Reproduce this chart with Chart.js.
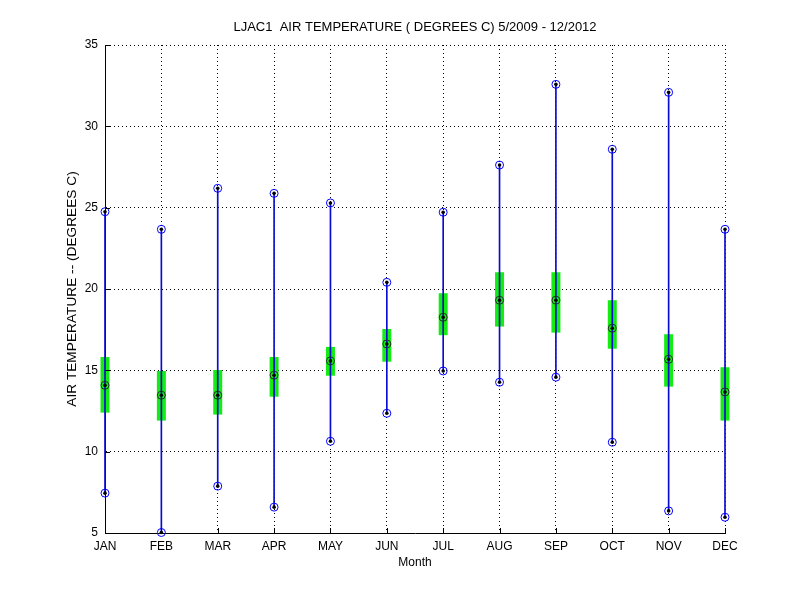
<!DOCTYPE html>
<html>
<head>
<meta charset="utf-8">
<script src="https://cdn.jsdelivr.net/npm/chart.js@4/dist/chart.umd.min.js"></script>
<style>
  html, body { margin: 0; padding: 0; background: #ffffff; }
  #wrap { width: 800px; height: 600px; }
</style>
</head>
<body>
<div id="wrap"><canvas id="c" width="800" height="600"></canvas></div>
<script>
const months = ['JAN','FEB','MAR','APR','MAY','JUN','JUL','AUG','SEP','OCT','NOV','DEC'];
const maxTemp    = [24.75, 23.67, 26.19, 25.88, 25.29, 20.41, 24.72, 27.62, 32.58, 28.59, 32.09, 23.67];
const minTemp    = [ 7.45,  5.03,  7.88,  6.59, 10.64, 12.36, 14.96, 14.27, 14.58, 10.58,  6.36,  5.97];
const medianTemp = [14.08, 13.47, 13.47, 14.70, 15.58, 16.62, 18.26, 19.31, 19.31, 17.59, 15.68, 13.67];
const q1Temp     = [12.40, 11.91, 12.28, 13.38, 14.67, 15.53, 17.16, 17.69, 17.32, 16.33, 14.00, 11.91];
const q3Temp     = [15.82, 14.96, 15.02, 15.82, 16.44, 17.54, 19.74, 21.03, 21.03, 19.31, 17.22, 15.19];
const yTicks     = [5, 10, 15, 20, 25, 30, 35];

const titleText = 'LJAC1  AIR TEMPERATURE ( DEGREES C) 5/2009 - 12/2012';
const yTitle = 'AIR TEMPERATURE -- (DEGREES C)';
const xTitle = 'Month';

const FONT = "'Liberation Sans', Arial, Helvetica, sans-serif";

const boxData = months.map((m, i) => [q1Temp[i], q3Temp[i]]);
const whiskerData = months.map((m, i) => [minTemp[i], maxTemp[i]]);
const dotData = [];
months.forEach((m, i) => {
  dotData.push({x: m, y: maxTemp[i]});
  dotData.push({x: m, y: minTemp[i]});
  dotData.push({x: m, y: medianTemp[i]});
});

const inwardTicks = {
  id: 'inwardTicks',
  afterDatasetsDraw(chart) {
    const ctx = chart.ctx;
    const xs = chart.scales.x, ys = chart.scales.y;
    const area = chart.chartArea;
    ctx.save();
    ctx.strokeStyle = '#000';
    ctx.lineWidth = 1;
    ctx.beginPath();
    yTicks.forEach(v => {
      const py = Math.round(ys.getPixelForValue(v)) + 0.5;
      ctx.moveTo(area.left, py);
      ctx.lineTo(area.left + 5, py);
    });
    months.forEach((m, i) => {
      const px = Math.round(xs.getPixelForValue(i)) + 0.5;
      ctx.moveTo(px, area.bottom);
      ctx.lineTo(px, area.bottom - 5);
    });
    ctx.stroke();
    ctx.restore();
  }
};

new Chart(document.getElementById('c'), {
  type: 'bar',
  data: {
    labels: months,
    datasets: [
      {
        type: 'bar', label: 'IQR', data: boxData,
        backgroundColor: '#14ec14', borderWidth: 0, inflateAmount: 0,
        barThickness: 9, grouped: false, order: 5, clip: false
      },
      {
        type: 'bar', label: 'Range', data: whiskerData,
        backgroundColor: '#0a0ad0', borderWidth: 0,
        barThickness: 1, grouped: false, order: 4, clip: false
      },
      {
        type: 'line', label: 'Max', data: maxTemp, showLine: false,
        pointRadius: 4, pointHoverRadius: 4, pointBorderWidth: 1,
        pointBorderColor: '#0000ff', pointBackgroundColor: 'rgba(0,0,0,0)',
        order: 3, clip: false
      },
      {
        type: 'line', label: 'Min', data: minTemp, showLine: false,
        pointRadius: 4, pointHoverRadius: 4, pointBorderWidth: 1,
        pointBorderColor: '#0000ff', pointBackgroundColor: 'rgba(0,0,0,0)',
        order: 3, clip: false
      },
      {
        type: 'line', label: 'Median', data: medianTemp, showLine: false,
        pointRadius: 4, pointHoverRadius: 4, pointBorderWidth: 1,
        pointBorderColor: '#203020', pointBackgroundColor: 'rgba(0,0,0,0)',
        order: 2, clip: false
      },
      {
        type: 'line', label: 'Dots', data: dotData, showLine: false,
        pointRadius: 1.8, pointHoverRadius: 1.8, pointBorderWidth: 0,
        pointBackgroundColor: '#000000', pointBorderColor: '#000000',
        order: 1, clip: false
      }
    ]
  },
  options: {
    responsive: false,
    animation: false,
    events: [],
    layout: { padding: { left: 0, right: 75, top: 0, bottom: 0 } },
    plugins: {
      legend: { display: false },
      tooltip: { enabled: false },
      title: {
        display: true,
        text: titleText,
        fullSize: false,
        color: '#000',
        font: { family: FONT, size: 13, weight: 'normal' },
        padding: { top: 19.5, bottom: 9.9 }
      }
    },
    scales: {
      x: {
        type: 'category',
        offset: false,
        grid: { offset: false, color: '#000', lineWidth: 1, drawTicks: false },
        border: { display: true, color: '#000', width: 1, dash: [1, 3] },
        ticks: {
          color: '#000', padding: 6, maxRotation: 0, autoSkip: false,
          font: { family: FONT, size: 12 }
        },
        title: {
          display: true, text: xTitle, color: '#000',
          font: { family: FONT, size: 12 },
          padding: { top: 30, bottom: 30 }
        },
        afterFit(scale) { scale.height = 67; }
      },
      y: {
        type: 'linear',
        min: 5, max: 35,
        grid: { color: '#000', lineWidth: 1, drawTicks: false },
        border: { display: true, color: '#000', width: 1, dash: [1, 3] },
        afterBuildTicks(scale) { scale.ticks = yTicks.map(v => ({ value: v })); },
        ticks: {
          color: '#000', padding: 7,
          font: { family: FONT, size: 12 }
        },
        title: {
          display: true, text: yTitle, color: '#000',
          font: { family: FONT, size: 13.7 },
          padding: { top: 64, bottom: 64 }
        },
        afterFit(scale) { scale.width = 105; }
      }
    }
  },
  plugins: [inwardTicks]
});
</script>
</body>
</html>
